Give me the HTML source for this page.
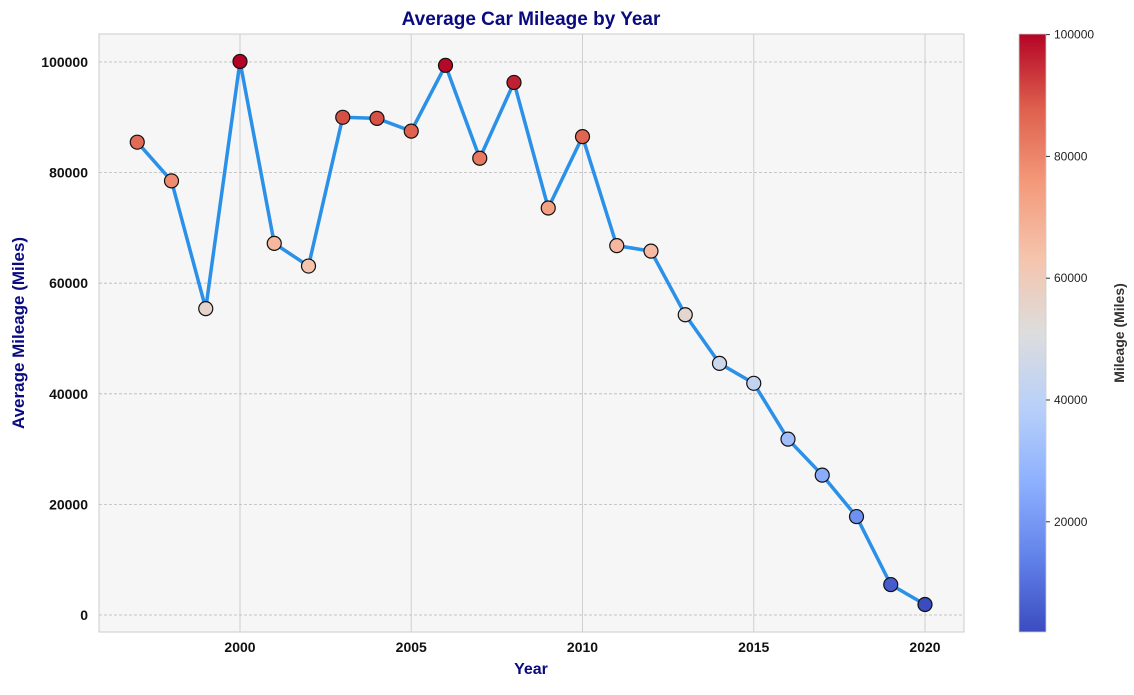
<!DOCTYPE html>
<html><head><meta charset="utf-8"><style>
body{margin:0;background:#fff;font-family:"Liberation Sans",Arial,sans-serif}
</style></head><body>
<svg id="chart" width="1134" height="690" xmlns="http://www.w3.org/2000/svg">
<defs><linearGradient id="cw" x1="0" y1="1" x2="0" y2="0"></linearGradient></defs>
<rect x="99" y="34" width="865" height="598" fill="#f6f6f6" stroke="#cccccc"/>
<g id="grid"></g><g id="axes"></g><g id="series"></g><g id="cbar"></g>
<text x="531" y="25" text-anchor="middle" font-size="19" font-weight="bold" fill="#0a0a80">Average Car Mileage by Year</text>
<text x="531" y="674" text-anchor="middle" font-size="16" font-weight="bold" fill="#0a0a80">Year</text>
<text transform="translate(24,333) rotate(-90)" text-anchor="middle" font-size="17" font-weight="bold" fill="#0a0a80">Average Mileage (Miles)</text>
<text transform="translate(1124,333) rotate(-90)" text-anchor="middle" font-size="14" font-weight="bold" fill="#333">Mileage (Miles)</text>
</svg>
<script>
const years=[1997,1998,1999,2000,2001,2002,2003,2004,2005,2006,2007,2008,2009,2010,2011,2012,2013,2014,2015,2016,2017,2018,2019,2020];
const mileage=[85500,78500,55400,100100,67200,63100,90000,89800,87500,99400,82600,96300,73600,86500,66800,65800,54300,45500,41900,31800,25300,17800,5500,1900];
const xTicks=[2000,2005,2010,2015,2020];
const yTicks=[0,20000,40000,60000,80000,100000];
const cTicks=[20000,40000,60000,80000,100000];
const NS="http://www.w3.org/2000/svg";
const X=v=>240+(v-2000)*34.25;
const Y=v=>615-v*0.00553;
const cmin=Math.min(...mileage),cmax=Math.max(...mileage);
const CY=v=>632-(v-cmin)/(cmax-cmin)*598;
const stops=[[59,76,192],[98,130,234],[141,176,254],[184,208,249],[221,221,221],[245,196,173],[244,154,123],[222,96,77],[180,4,38]];
function cw(t){t=Math.max(0,Math.min(1,t))*8;const i=Math.min(7,Math.floor(t)),f=t-i;const a=stops[i],b=stops[i+1];return`rgb(${a.map((c,k)=>Math.round(c+(b[k]-c)*f)).join(',')})`;}
function mk(tag,at,parent){const e=document.createElementNS(NS,tag);for(const k in at)e.setAttribute(k,at[k]);document.getElementById(parent).appendChild(e);return e;}
xTicks.forEach(v=>{
 let l=mk('line',{x1:X(v),x2:X(v),y1:34,y2:632,stroke:'#cfcfcf','stroke-width':1},'grid');
 
 
 let t=mk('text',{x:X(v),y:652,'text-anchor':'middle','font-size':14,'font-weight':'bold',fill:'#111'},'axes');t.textContent=v;
 
 
});
yTicks.forEach(v=>{
 let l=mk('line',{x1:99,x2:964,y1:Y(v),y2:Y(v),stroke:'#b8b8b8','stroke-dasharray':'3,2','stroke-width':0.8},'grid');
 
 
 let t=mk('text',{x:88,y:Y(v)+5,'text-anchor':'end','font-size':14,'font-weight':'bold',fill:'#111'},'axes');t.textContent=v;
 
 
});
let p=mk('polyline',{points:years.map((y,i)=>X(y)+','+Y(mileage[i])).join(' '),fill:'none',stroke:'#2b90e8','stroke-width':3.5,'stroke-linejoin':'round'},'series');


years.forEach((y,i)=>{
 let c=mk('circle',{cx:X(y),cy:Y(mileage[i]),r:7,fill:cw((mileage[i]-cmin)/(cmax-cmin)),stroke:'#111','stroke-width':1.2},'series');
 
 
});
const g=document.getElementById('cw');
for(let i=0;i<=8;i++){const s=document.createElementNS(NS,'stop');s.setAttribute('offset',i/8);s.setAttribute('stop-color',cw(i/8));g.appendChild(s);}
let cb=mk('rect',{x:1019,y:34,width:27,height:598,fill:'url(#cw)',stroke:'#ccc','stroke-width':0.8},'cbar');


cTicks.forEach(v=>{
 let l=mk('line',{x1:1046,x2:1050,y1:CY(v),y2:CY(v),stroke:'#333'},'cbar');
 
 
 let t=mk('text',{x:1054,y:CY(v)+4,'font-size':12,fill:'#222'},'cbar');t.textContent=v;
 
 
});
</script>
</body></html>
